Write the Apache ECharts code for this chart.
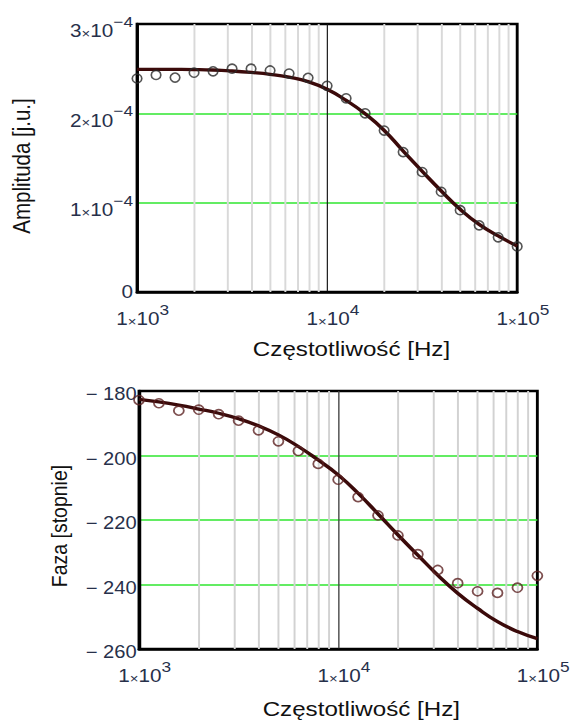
<!DOCTYPE html>
<html>
<head>
<meta charset="utf-8">
<title>Amplituda i faza</title>
<script src="https://cdn.jsdelivr.net/npm/echarts@6/dist/echarts.min.js"></script>
<style>
  html, body { margin: 0; padding: 0; background: #fff; overflow: hidden; }
  /* the page is drawn slightly narrower and widened, giving the wide glyphs of the printout */
  #wrap { width: 498px; height: 720px; transform: scaleX(1.1506); transform-origin: 0 0; }
</style>
</head>
<body>
<div id="wrap"></div>
<script>
// measurement frequencies [Hz]
const freq = [1000, 1259, 1585, 1995, 2512, 3162, 3981, 5012, 6310, 7943,
  10000, 12589, 15849, 19953, 25119, 31623, 39811, 50119, 63096, 79433, 100000];

// amplitude: measured points and fitted model [j.u.]
const ampMeasured = [2.39e-4, 2.43e-4, 2.40e-4, 2.455e-4, 2.47e-4, 2.50e-4, 2.50e-4, 2.48e-4, 2.445e-4, 2.397e-4,
  2.308e-4, 2.168e-4, 2.00e-4, 1.807e-4, 1.566e-4, 1.343e-4, 1.122e-4, 0.916e-4, 0.746e-4, 0.612e-4, 0.51e-4];
const ampFit = [2.493e-4, 2.493e-4, 2.492e-4, 2.49e-4, 2.485e-4, 2.474e-4, 2.458e-4, 2.437e-4, 2.405e-4, 2.355e-4,
  2.269e-4, 2.145e-4, 1.995e-4, 1.81e-4, 1.578e-4, 1.352e-4, 1.132e-4, 0.926e-4, 0.757e-4, 0.627e-4, 0.515e-4];

// phase: measured points and fitted model [degrees]
const phaseMeasured = [-182.8, -183.8, -186.1, -185.8, -187.2, -189.2, -192.2, -195.6, -198.6, -202.6,
  -207.5, -212.9, -218.6, -224.8, -230.6, -235.5, -239.6, -242.1, -242.6, -241.0, -237.3];
const phaseFit = [-182.6, -183.4, -184.4, -185.6, -186.9, -188.6, -190.8, -193.6, -197.2, -201.4,
  -206.0, -211.7, -218.1, -224.6, -230.9, -237.1, -242.7, -247.4, -251.5, -254.6, -256.8];

// logarithmic grid lines between the decades
const minorGridFreqs = [2000, 3000, 4000, 5000, 6000, 7000, 8000, 9000,
  20000, 30000, 40000, 50000, 60000, 70000, 80000, 90000];

// tick labels
const freqTickValues = [1000, 10000, 100000];
const freqTickPowers = ['3', '4', '5'];
const ampTickValues = [0, 1e-4, 2e-4, 3e-4];
const ampTickMantissas = ['0', '1', '2', '3'];
const ampTickPower = '\u22124';
const phaseTickValues = [-260, -240, -220, -200, -180];
const phaseTickLabels = ['\u2212 260', '\u2212 240', '\u2212 220', '\u2212 200', '\u2212 180'];

const FONT = '"Liberation Sans", Arial, sans-serif';
const TICK_COLOR = '#27304a';

function nearestIndex(list, v) {
  let best = 0;
  for (let i = 1; i < list.length; i++) {
    if (Math.abs(list[i] - v) < Math.abs(list[best] - v)) best = i;
  }
  return best;
}

function powRich(size, supSize) {
  return {
    m: { fontFamily: FONT, fontSize: size, color: TICK_COLOR, lineHeight: 26, verticalAlign: 'bottom' },
    x: { fontFamily: FONT, fontSize: 13, color: TICK_COLOR, lineHeight: 26, verticalAlign: 'bottom' },
    e: { fontFamily: FONT, fontSize: supSize, color: TICK_COLOR, lineHeight: 13, verticalAlign: 'top' },
    z: { fontFamily: FONT, fontSize: size, color: TICK_COLOR, padding: [0, 0, 6, 0] },
    p: { fontFamily: FONT, fontSize: size, color: TICK_COLOR }
  };
}

function freqAxis(gridIndex, majorColor, majorWidth) {
  return {
    type: 'log', logBase: 10, gridIndex: gridIndex, min: 1000, max: 100000,
    axisLine: { show: true, onZero: false, lineStyle: { color: '#000', width: 2.5 } },
    axisTick: { show: false },
    splitLine: { show: true, showMinLine: false, showMaxLine: false,
      lineStyle: { color: majorColor, width: majorWidth } },
    axisLabel: {
      show: true, margin: 10, padding: [0, 0, 0, 10], showMinLabel: true, showMaxLabel: true,
      formatter: function (v) {
        const i = nearestIndex(freqTickValues, v);
        return '{m|1}{x|\u00d7}{m|10}{e|' + freqTickPowers[i] + '}';
      },
      rich: powRich(18, 15)
    }
  };
}

const chart = echarts.init(document.getElementById('wrap'), null, { renderer: 'svg' });

const option = {
  animation: false,
  backgroundColor: '#fff',
  grid: [
    { left: 119.1, top: 24, width: 330.4, height: 268, show: true,
      borderColor: '#000', borderWidth: 2.5, backgroundColor: '#fff' },
    { left: 120.8, top: 391, width: 349.4, height: 258, show: true,
      borderColor: '#000', borderWidth: 2.5, backgroundColor: '#fff' }
  ],
  xAxis: [
    freqAxis(0, '#111', 1),
    freqAxis(1, '#444', 1.2)
  ],
  yAxis: [
    {
      type: 'value', gridIndex: 0, min: 0, max: 3e-4, interval: 1e-4,
      axisLine: { show: true, onZero: false, lineStyle: { color: '#000', width: 2.5 } },
      axisTick: { show: false },
      splitLine: { show: true, showMinLine: false, showMaxLine: false,
        lineStyle: { color: '#2fe62f', width: 1.5 } },
      axisLabel: {
        margin: 3.5, padding: [6, 0, 0, 0],
        formatter: function (v) {
          const i = nearestIndex(ampTickValues, v);
          if (ampTickValues[i] === 0) return '{z|' + ampTickMantissas[i] + '}';
          return '{m|' + ampTickMantissas[i] + '}{x|\u00d7}{m|10}{e|' + ampTickPower + '}';
        },
        rich: powRich(18, 15)
      }
    },
    {
      type: 'value', gridIndex: 1, min: -260, max: -180, interval: 20,
      axisLine: { show: true, onZero: false, lineStyle: { color: '#000', width: 2.5 } },
      axisTick: { show: false },
      splitLine: { show: true, showMinLine: false, showMaxLine: false,
        lineStyle: { color: '#2fe62f', width: 1.5 } },
      axisLabel: {
        margin: 2, padding: [6, 0, 0, 0],
        formatter: function (v) {
          return '{p|' + phaseTickLabels[nearestIndex(phaseTickValues, v)] + '}';
        },
        rich: powRich(17.5, 15)
      }
    }
  ],
  series: [
    {
      name: 'siatka-amplituda', type: 'line', xAxisIndex: 0, yAxisIndex: 0, data: [],
      silent: true,
      markLine: {
        silent: true, z: 1, symbol: ['none', 'none'], label: { show: false },
        lineStyle: { color: '#d9d9d9', width: 1.7, type: 'solid' },
        emphasis: { disabled: true },
        data: minorGridFreqs.map(f => ({ xAxis: f }))
      }
    },
    {
      name: 'siatka-faza', type: 'line', xAxisIndex: 1, yAxisIndex: 1, data: [],
      silent: true,
      markLine: {
        silent: true, z: 1, symbol: ['none', 'none'], label: { show: false },
        lineStyle: { color: '#d2d2d2', width: 1.7, type: 'solid' },
        emphasis: { disabled: true },
        data: minorGridFreqs.map(f => ({ xAxis: f }))
      }
    },
    {
      name: 'model amplitudy', type: 'line', xAxisIndex: 0, yAxisIndex: 0, z: 3,
      data: freq.map((f, i) => [f, ampFit[i]]),
      smooth: true, showSymbol: false, silent: true,
      lineStyle: { color: '#3b0a0a', width: 3.3 }
    },
    {
      name: 'pomiar amplitudy', type: 'scatter', xAxisIndex: 0, yAxisIndex: 0, z: 4,
      data: freq.map((f, i) => [f, ampMeasured[i]]),
      symbol: 'circle', symbolSize: [8.3, 9], silent: true,
      itemStyle: { color: 'rgba(0,0,0,0)', borderColor: '#2a2a2a', borderWidth: 1.5 }
    },
    {
      name: 'model fazy', type: 'line', xAxisIndex: 1, yAxisIndex: 1, z: 3,
      data: freq.map((f, i) => [f, phaseFit[i]]),
      smooth: true, showSymbol: false, silent: true,
      lineStyle: { color: '#3b0a0a', width: 3.3 }
    },
    {
      name: 'pomiar fazy', type: 'scatter', xAxisIndex: 1, yAxisIndex: 1, z: 4,
      data: freq.map((f, i) => [f, phaseMeasured[i]]),
      symbol: 'circle', symbolSize: [8.7, 9], silent: true,
      itemStyle: { color: 'rgba(0,0,0,0)', borderColor: '#5c2222', borderWidth: 1.6 }
    }
  ],
  graphic: [
    { type: 'text', x: 305.5, y: 349, silent: true,
      style: { text: 'Częstotliwość [Hz]', font: '21px ' + FONT, fill: '#111',
        textAlign: 'center', textVerticalAlign: 'middle' } },
    { type: 'text', x: 314, y: 709, silent: true,
      style: { text: 'Częstotliwość [Hz]', font: '21px ' + FONT, fill: '#111',
        textAlign: 'center', textVerticalAlign: 'middle' } },
    { type: 'text', x: 19, y: 166, rotation: Math.PI / 2, silent: true,
      style: { text: 'Amplituda [j.u.]', font: '20.5px ' + FONT, fill: '#111',
        textAlign: 'center', textVerticalAlign: 'middle' } },
    { type: 'text', x: 51.5, y: 526, rotation: Math.PI / 2, silent: true,
      style: { text: 'Faza [stopnie]', font: '19.5px ' + FONT, fill: '#111',
        textAlign: 'center', textVerticalAlign: 'middle' } }
  ]
};

chart.setOption(option);
</script>
</body>
</html>
